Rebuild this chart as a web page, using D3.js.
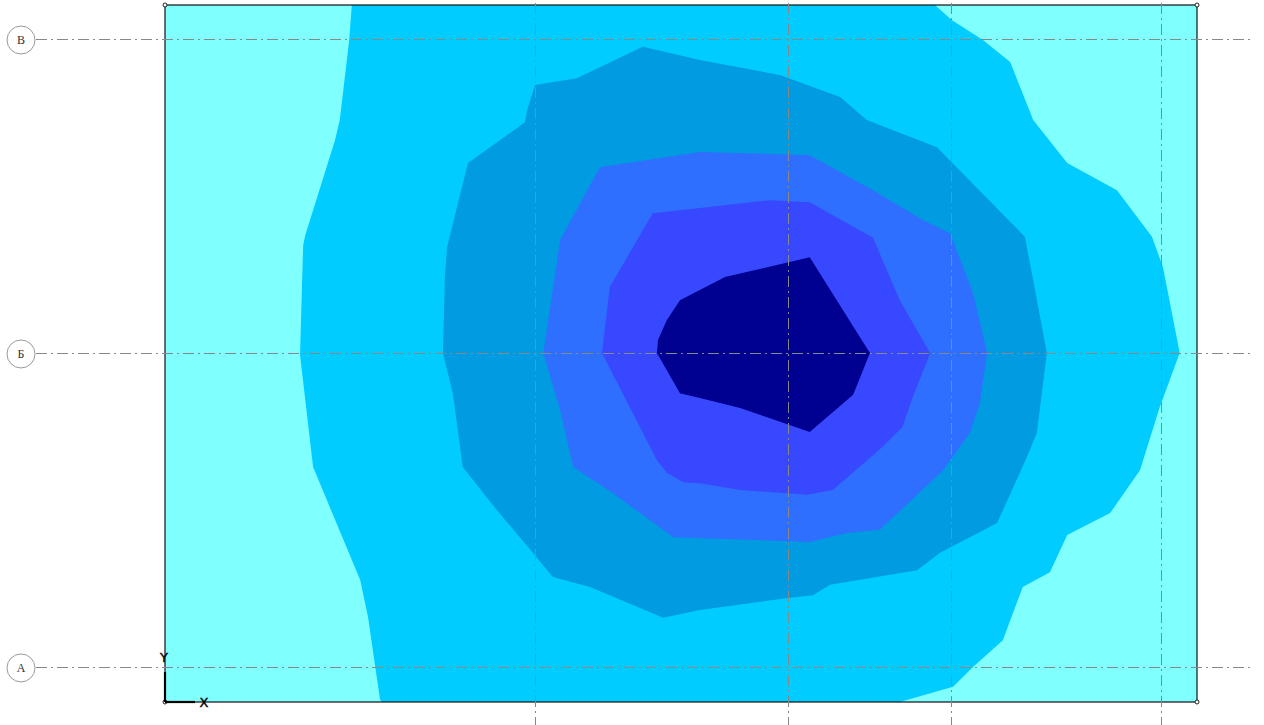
<!DOCTYPE html>
<html>
<head>
<meta charset="utf-8">
<script src="https://cdn.jsdelivr.net/npm/d3@7"></script>
<style>
  html, body { margin: 0; padding: 0; background: #fff; }
  svg { display: block; }
</style>
</head>
<body>
<svg id="plan" width="1264" height="725"></svg>
<script>
// Slab plan size, metres
const slabWidth = 19.72;
const slabHeight = 13.32;

// Grid axes (letters on rows, columns unlabelled in this view)
const rowNames = ["А", "Б", "В"];
const rowCoords = [0.67, 6.67, 12.67];
const colCoords = [7.07, 11.90, 15.02, 19.03];

// Contour fill colours, from the smallest to the largest value
const levelColors = ["#80ffff", "#00ccff", "#009be0", "#2f6fff", "#3848ff", "#000091"];

// Isoline zones, [x, y] in metres from the slab origin
const zone2 = [
  [3.57, 13.32], [3.52, 12.65], [3.34, 11.12], [3.25, 10.74], [2.68, 8.92], [2.64, 8.73],
  [2.58, 6.63], [2.83, 4.49], [3.73, 2.33], [3.88, 1.62], [4.11, 0.04], [4.15, 0],
  [14.04, 0], [15.06, 0.29], [15.44, 0.67], [16.01, 1.18], [16.39, 2.20], [16.91, 2.48],
  [17.24, 3.19], [18.06, 3.61], [18.63, 4.43], [19.01, 5.64], [19.39, 6.67], [19.07, 8.31],
  [18.86, 8.89], [18.19, 9.78], [17.24, 10.30], [16.59, 11.12], [16.15, 12.23], [15.63, 12.65],
  [15.04, 13.03], [14.71, 13.32]
];
const zone3 = [
  [9.13, 12.52], [10.22, 12.27], [11.75, 11.98], [12.90, 11.56], [13.41, 11.12], [14.75, 10.60],
  [16.43, 8.89], [16.59, 8.06], [16.85, 6.67], [16.66, 5.14], [16.47, 4.68], [15.90, 3.42],
  [14.81, 2.85], [14.37, 2.52], [12.71, 2.24], [12.38, 2.04], [11.94, 1.99], [10.22, 1.76],
  [9.52, 1.61], [8.12, 2.20], [7.41, 2.39], [7.03, 2.85], [6.34, 3.67], [5.69, 4.49],
  [5.50, 5.90], [5.31, 6.67], [5.35, 8.12], [5.39, 8.69], [5.79, 10.30], [6.88, 11.08],
  [6.92, 11.31], [7.07, 11.79], [7.87, 11.92]
];
const zone4 = [
  [8.31, 10.22], [10.22, 10.51], [12.32, 10.45], [13.53, 9.78], [14.48, 9.21], [15.00, 8.96],
  [15.44, 7.82], [15.71, 6.67], [15.57, 5.71], [15.38, 5.14], [14.87, 4.43], [13.66, 3.29],
  [13.03, 3.23], [12.32, 3.06], [10.22, 3.13], [9.71, 3.15], [8.56, 3.99], [7.80, 4.49],
  [7.55, 5.58], [7.23, 6.67], [7.55, 8.83]
];
const zone5 = [
  [9.32, 9.34], [10.22, 9.44], [11.56, 9.59], [12.32, 9.55], [13.53, 8.87], [14.04, 7.68],
  [14.62, 6.67], [14.29, 5.83], [14.09, 5.25], [13.66, 4.83], [12.76, 4.05], [12.27, 3.96],
  [10.99, 4.05], [10.22, 4.18], [9.90, 4.20], [9.59, 4.38], [9.40, 4.62], [8.35, 6.67],
  [8.50, 7.93]
];
const zone6 = [
  [12.32, 8.50], [10.70, 8.12], [9.84, 7.68], [9.59, 7.30], [9.42, 6.92], [9.40, 6.67],
  [9.84, 5.90], [10.22, 5.81], [10.99, 5.62], [12.32, 5.16], [13.15, 5.87], [13.47, 6.67]
];
const zones = [zone2, zone3, zone4, zone5, zone6];

const svg = d3.select("#plan");

const x = d3.scaleLinear().domain([0, slabWidth]).range([165, 1197]);
const y = d3.scaleLinear().domain([0, slabHeight]).range([702, 5]);

// Base level fills the whole slab
svg.append("rect")
  .attr("x", x(0)).attr("y", y(slabHeight))
  .attr("width", x(slabWidth) - x(0))
  .attr("height", y(0) - y(slabHeight))
  .attr("fill", levelColors[0]);

const ring = d3.line().x(d => x(d[0])).y(d => y(d[1]));

svg.append("g")
  .selectAll("path")
  .data(zones)
  .join("path")
  .attr("d", d => ring(d) + "Z")
  .attr("fill", (d, i) => levelColors[i + 1]);

// Slab outline
svg.append("rect")
  .attr("x", x(0)).attr("y", y(slabHeight))
  .attr("width", x(slabWidth) - x(0))
  .attr("height", y(0) - y(slabHeight))
  .attr("fill", "none")
  .attr("stroke", "#111")
  .attr("stroke-width", 1.2);

// Grid axes, dash-dot
const axisDash = "11,4,2,4";
const grid = svg.append("g")
  .attr("stroke", "#888")
  .attr("stroke-width", 1)
  .attr("stroke-dasharray", axisDash)
  .attr("fill", "none");

grid.selectAll("line.row")
  .data(rowCoords)
  .join("line")
  .attr("class", "row")
  .attr("x1", 36).attr("x2", 1254)
  .attr("y1", d => Math.round(y(d)) + 0.5)
  .attr("y2", d => Math.round(y(d)) + 0.5);

grid.selectAll("line.col")
  .data(colCoords)
  .join("line")
  .attr("class", "col")
  .attr("y1", 3).attr("y2", 725)
  .attr("x1", d => Math.round(x(d)) + 0.5)
  .attr("x2", d => Math.round(x(d)) + 0.5);

// Axis markers
const marks = svg.append("g")
  .selectAll("g")
  .data(rowCoords)
  .join("g")
  .attr("transform", d => `translate(21,${y(d) + 1})`);

marks.append("circle")
  .attr("r", 14)
  .attr("fill", "#fff")
  .attr("stroke", "#9a9a9a")
  .attr("stroke-width", 1);

marks.append("text")
  .attr("text-anchor", "middle")
  .attr("dy", "0.36em")
  .attr("font-family", "Liberation Serif, DejaVu Serif, serif")
  .attr("font-size", 12)
  .attr("fill", "#333")
  .text((d, i) => rowNames[i]);

// Corner nodes of the slab
const corners = [[0, 0], [slabWidth, 0], [slabWidth, slabHeight], [0, slabHeight]];
svg.append("g")
  .selectAll("circle")
  .data(corners)
  .join("circle")
  .attr("cx", d => x(d[0]))
  .attr("cy", d => y(d[1]))
  .attr("r", 2)
  .attr("fill", "#fff")
  .attr("stroke", "#222")
  .attr("stroke-width", 1);

// Local coordinate system glyph
const ucs = svg.append("g").attr("stroke", "#000").attr("stroke-width", 2.2);
ucs.append("line").attr("x1", x(0)).attr("y1", y(0)).attr("x2", x(0)).attr("y2", y(0) - 30);
ucs.append("line").attr("x1", x(0)).attr("y1", y(0)).attr("x2", x(0) + 30).attr("y2", y(0));

svg.append("text")
  .attr("x", x(0) - 1).attr("y", y(0) - 40)
  .attr("text-anchor", "middle")
  .attr("font-family", "DejaVu Sans, sans-serif")
  .attr("font-size", 13)
  .attr("fill", "#000")
  .attr("stroke", "#000").attr("stroke-width", 0.4)
  .text("Y");

svg.append("text")
  .attr("x", x(0) + 39).attr("y", y(0) + 5)
  .attr("text-anchor", "middle")
  .attr("font-family", "DejaVu Sans, sans-serif")
  .attr("font-size", 13)
  .attr("fill", "#000")
  .attr("stroke", "#000").attr("stroke-width", 0.4)
  .text("X");
</script>
</body>
</html>
